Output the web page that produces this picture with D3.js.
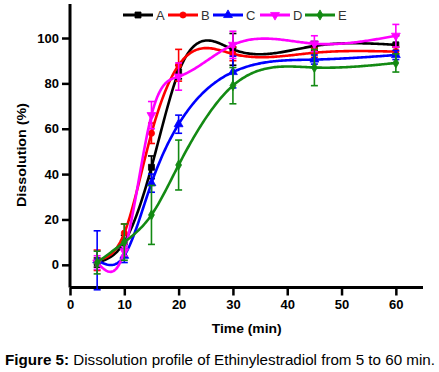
<!DOCTYPE html>
<html><head><meta charset="utf-8">
<script src="https://cdn.jsdelivr.net/npm/d3@7"></script>
<style>body{margin:0;background:#fff}svg{display:block}text{font-family:"Liberation Sans",Arial,sans-serif}</style>
</head><body>
<svg id="c" width="439" height="372"></svg>
<script>
const times = [5, 10, 15, 20, 30, 45, 60];
const seriesNames = ["A", "B", "C", "D", "E"];
const seriesColors = ["#000000", "#ff0000", "#0000ff", "#ff00ff", "#138a13"];
const seriesShapes = ["square", "circle", "triangleUp", "triangleDown", "diamond"];
const valuesA = [1, 10, 43, 85, 95, 96.5, 97];
const valuesB = [2, 14, 58, 88, 93, 93.5, 94];
const valuesC = [2, 4, 36, 62, 85, 90.5, 92.5];
const valuesD = [1, 6, 66, 83, 97, 97.5, 101];
const valuesE = [1, 10, 22, 44, 79, 87, 89];
const errA = [2, 3, 5, 3, 7, 2, 4];
const errB = [4.5, 4, 4.5, 7, 3, 2, 2];
const errC = [13, 3, 4, 4, 7, 2, 2];
const errD = [3, 2, 6, 6, 6, 3.5, 5];
const errE = [5, 8, 13, 11, 8, 8, 4];
const xTicks = [0, 10, 20, 30, 40, 50, 60];
const yTicks = [0, 20, 40, 60, 80, 100];
const xTitle = "Time (min)";
const yTitle = "Dissolution (%)";
const captionBold = "Figure 5:";
const captionText = " Dissolution profile of Ethinylestradiol from 5 to 60 min.";

const values = [valuesA, valuesB, valuesC, valuesD, valuesE];
const errs = [errA, errB, errC, errD, errE];

const svg = d3.select("#c");
const x = d3.scaleLinear().domain([0, 65]).range([70, 423]);
const y = d3.scaleLinear().domain([-10, 115]).range([287.5, 4]);

function fit(sel, w) {
  sel.attr("textLength", w).attr("lengthAdjust", "spacingAndGlyphs");
}

// natural cubic spline y(x) through the data points
function naturalSpline(xs, ys) {
  const n = xs.length, h = [], a = [], b = [], c = [], d = [], M = new Array(n).fill(0);
  for (let i = 0; i < n - 1; i++) h.push(xs[i + 1] - xs[i]);
  const m = n - 2;
  for (let i = 1; i <= m; i++) {
    a.push(h[i - 1]); b.push(2 * (h[i - 1] + h[i])); c.push(h[i]);
    d.push(6 * ((ys[i + 1] - ys[i]) / h[i] - (ys[i] - ys[i - 1]) / h[i - 1]));
  }
  for (let i = 1; i < m; i++) { const w = a[i] / b[i - 1]; b[i] -= w * c[i - 1]; d[i] -= w * d[i - 1]; }
  const sol = new Array(m);
  sol[m - 1] = d[m - 1] / b[m - 1];
  for (let i = m - 2; i >= 0; i--) sol[i] = (d[i] - c[i] * sol[i + 1]) / b[i];
  for (let i = 0; i < m; i++) M[i + 1] = sol[i];
  return t => {
    let k = 0;
    while (k < n - 2 && t > xs[k + 1]) k++;
    const hk = h[k], A = (xs[k + 1] - t) / hk, B = (t - xs[k]) / hk;
    return A * ys[k] + B * ys[k + 1] + ((A * A * A - A) * M[k] + (B * B * B - B) * M[k + 1]) * hk * hk / 6;
  };
}

// axes
const xAxis = svg.append("g").attr("transform", `translate(0,${y(-10)})`)
  .call(d3.axisBottom(x).tickValues(xTicks).tickSize(8).tickPadding(4));
const yAxis = svg.append("g").attr("transform", `translate(${x(0)},0)`)
  .call(d3.axisLeft(y).tickValues(yTicks).tickSize(8).tickPadding(3));
[xAxis, yAxis].forEach(a => {
  a.select(".domain").attr("stroke", "#000").attr("stroke-width", 3);
  a.selectAll(".tick line").attr("stroke", "#000").attr("stroke-width", 2.5);
  a.selectAll(".tick text").attr("fill", "#000").attr("font-size", 13).attr("font-weight", "bold")
    .attr("font-family", '"Liberation Sans",Arial,sans-serif');
});
xAxis.select(".domain").attr("d", `M${x(0)},0H${x(65)}`);
yAxis.select(".domain").attr("d", `M0,${y(-10)}V${y(115)}`);

// titles
svg.append("text").attr("x", 246.7).attr("y", 333).attr("text-anchor", "middle")
  .attr("font-size", 13).attr("font-weight", "bold").text(xTitle).call(fit, 70);
svg.append("text").attr("transform", "translate(26,155) rotate(-90)").attr("text-anchor", "middle")
  .attr("font-size", 13).attr("font-weight", "bold").text(yTitle).call(fit, 104);

// caption
const cap = svg.append("text").attr("x", 5).attr("y", 365).attr("font-size", 14).attr("fill", "#000");
cap.append("tspan").attr("font-weight", "bold").text(captionBold);
cap.append("tspan").text(captionText);
cap.call(fit, 430);

const symTypes = {square: d3.symbolSquare, circle: d3.symbolCircle, triangleUp: d3.symbolTriangle,
  triangleDown: d3.symbolTriangle, diamond: d3.symbolDiamond};
function marker(g, shape, color, cx, cy) {
  const s = shape === "square" ? 36 : shape === "circle" ? 30 : shape === "diamond" ? 30 : 34;
  g.append("path").attr("d", d3.symbol().type(symTypes[shape]).size(s)())
    .attr("transform", `translate(${cx},${cy})` + (shape === "triangleDown" ? " rotate(180)" : ""))
    .attr("fill", color).attr("stroke", color).attr("stroke-width", 0.8);
}

const line = d3.line().x(d => x(d[0])).y(d => y(d[1]));

seriesNames.forEach((name, i) => {
  const g = svg.append("g");
  const col = seriesColors[i];
  const pts = times.map((t, j) => [t, values[i][j], errs[i][j]]);
  pts.forEach(p => {
    const px = x(p[0]), y1 = y(p[1] + p[2]), y2 = y(p[1] - p[2]);
    g.append("line").attr("x1", px).attr("x2", px).attr("y1", y1).attr("y2", y2)
      .attr("stroke", col).attr("stroke-width", 1.6);
    [y1, y2].forEach(yy => g.append("line").attr("x1", px - 3.5).attr("x2", px + 3.5)
      .attr("y1", yy).attr("y2", yy).attr("stroke", col).attr("stroke-width", 1.6));
  });
  const f = naturalSpline(times, values[i]);
  const dense = d3.range(times[0], times[times.length - 1] + 0.001, 0.25).map(t => [t, f(t)]);
  g.append("path").datum(dense).attr("d", line).attr("fill", "none").attr("stroke", col)
    .attr("stroke-width", 2.6).attr("stroke-linejoin", "round");
  pts.forEach(p => marker(g, seriesShapes[i], col, x(p[0]), y(p[1])));
});

// legend
const legStarts = [123, 168, 213, 260, 305];
seriesNames.forEach((name, i) => {
  const g = svg.append("g");
  const col = seriesColors[i];
  const x0 = legStarts[i];
  g.append("line").attr("x1", x0).attr("x2", x0 + 30).attr("y1", 15).attr("y2", 15)
    .attr("stroke", col).attr("stroke-width", 3);
  marker(g, seriesShapes[i], col, x0 + 15, 15);
  g.append("text").attr("x", x0 + 33).attr("y", 19.5).attr("font-size", 13).attr("fill", "#333").text(name);
});
</script>
</body></html>
